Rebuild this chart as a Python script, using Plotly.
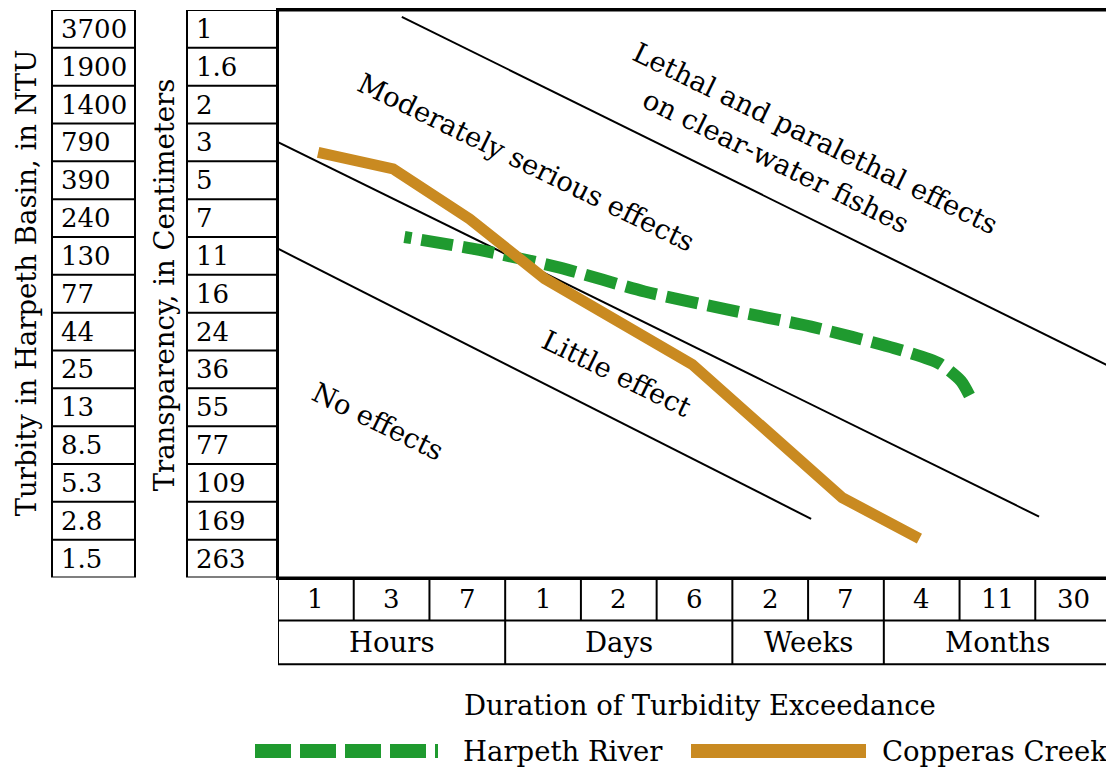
import plotly.graph_objects as go

# ---------------- data ----------------
turbidity_ntu = ["3700", "1900", "1400", "790", "390", "240", "130", "77",
                 "44", "25", "13", "8.5", "5.3", "2.8", "1.5"]
transparency_cm = ["1", "1.6", "2", "3", "5", "7", "11", "16",
                   "24", "36", "55", "77", "109", "169", "263"]
duration_values = ["1", "3", "7", "1", "2", "6", "2", "7", "4", "11", "30"]
duration_units = ["Hours", "Days", "Weeks", "Months"]
unit_spans = [3, 3, 2, 3]

# series, x = duration column position, y = table row position (0 bottom .. 15 top)
harpeth_x = [1.67, 2.66, 3.72, 4.84, 5.94, 7.04, 8.14, 8.73, 9.02, 9.17]
harpeth_y = [9.00, 8.66, 8.19, 7.56, 7.08, 6.63, 6.06, 5.66, 5.19, 4.66]
copperas_x = [0.53, 1.52, 2.53, 3.52, 5.47, 7.45, 8.47]
copperas_y = [11.24, 10.80, 9.48, 7.90, 5.63, 2.11, 1.03]

# effect boundary lines
lethal_x, lethal_y = [1.635, 11.0], [14.82, 5.56]
moderate_x, moderate_y = [0.0, 10.05], [11.51, 1.61]
little_x, little_y = [0.0, 7.04], [8.69, 1.55]

zone_labels = ["Lethal and paralethal effects", "on clear-water fishes",
               "Moderately serious effects", "Little effect", "No effects"]
zone_x = [7.10, 6.58, 3.28, 4.47, 1.32]
zone_y = [11.63, 11.00, 10.98, 5.40, 4.13]

# ---------------- styling ----------------
OFF = 8                      # browser body margin
W, H = 1114 - OFF, 774 - OFF
FONT = "DejaVu Serif"
FS_WORD = 27.5
FS_NUM = 26
GREEN = "#1f9a2f"
ORANGE = "#c98a21"


def px(x):
    return (x - OFF) / W


def py(y):
    return 1 - (y - OFF) / H


n_rows = len(turbidity_ntu)
n_cols = len(duration_values)

fig = go.Figure()

for xs, ys in [(lethal_x, lethal_y), (moderate_x, moderate_y), (little_x, little_y)]:
    fig.add_trace(go.Scatter(x=xs, y=ys, mode="lines",
                             line=dict(color="black", width=2),
                             showlegend=False, hoverinfo="skip"))

# green dash pattern with a short leading piece
dash_parts = ["7px", "10px"] + ["32px", "10px"] * 16
fig.add_trace(go.Scatter(x=harpeth_x, y=harpeth_y, mode="lines", name="Harpeth River",
                         line=dict(color=GREEN, width=12, dash=",".join(dash_parts),
                                   shape="spline", smoothing=0.6),
                         showlegend=False))
fig.add_trace(go.Scatter(x=copperas_x, y=copperas_y, mode="lines", name="Copperas Creek",
                         line=dict(color=ORANGE, width=11),
                         showlegend=False))

shapes = []
annotations = []
LW = 2
TXT = dict(family=FONT, size=FS_WORD, color="black")
NUM = dict(family=FONT, size=FS_NUM, color="black")

# left tables
for (x0, x1, labels) in [(52, 135, turbidity_ntu), (187, 278, transparency_cm)]:
    shapes.append(dict(type="rect", xref="paper", yref="y", x0=px(x0), x1=px(x1),
                       y0=0, y1=n_rows, line=dict(color="black", width=LW)))
    for k in range(1, n_rows):
        shapes.append(dict(type="line", xref="paper", yref="y", x0=px(x0), x1=px(x1),
                           y0=k, y1=k, line=dict(color="black", width=LW)))
    for i, lab in enumerate(labels):
        annotations.append(dict(text=lab, xref="paper", yref="y", x=px(x0 + 7),
                                y=n_rows - i - 0.5, xanchor="left", yanchor="middle",
                                showarrow=False, font=NUM))

# bottom rows
r1_top, r1_bot, r2_bot = 577, 620, 664
shapes.append(dict(type="rect", xref="x", yref="paper", x0=0, x1=n_cols,
                   y0=py(r2_bot), y1=py(r1_top), line=dict(color="black", width=LW)))
shapes.append(dict(type="line", xref="x", yref="paper", x0=0, x1=n_cols,
                   y0=py(r1_bot), y1=py(r1_bot), line=dict(color="black", width=LW)))
for k in range(1, n_cols):
    shapes.append(dict(type="line", xref="x", yref="paper", x0=k, x1=k,
                       y0=py(r1_bot), y1=py(r1_top), line=dict(color="black", width=LW)))
for i, lab in enumerate(duration_values):
    annotations.append(dict(text=lab, xref="x", yref="paper", x=i + 0.5,
                            y=py((r1_top + r1_bot) / 2), xanchor="center", yanchor="middle",
                            showarrow=False, font=NUM))
start = 0
for lab, span in zip(duration_units, unit_spans):
    end = start + span
    if end < n_cols:
        shapes.append(dict(type="line", xref="x", yref="paper", x0=end, x1=end,
                           y0=py(r2_bot), y1=py(r1_bot), line=dict(color="black", width=LW)))
    annotations.append(dict(text=lab, xref="x", yref="paper", x=(start + end) / 2,
                            y=py((r1_bot + r2_bot) / 2), xanchor="center", yanchor="middle",
                            showarrow=False, font=TXT))
    start = end

# top border of the chart is drawn heavier
shapes.append(dict(type="line", xref="x", yref="paper", x0=0, x1=n_cols,
                   y0=py(8), y1=py(8), line=dict(color="black", width=3)))

# zone labels
for lab, zx, zy in zip(zone_labels, zone_x, zone_y):
    annotations.append(dict(text=lab, xref="x", yref="y", x=zx, y=zy, textangle=26,
                            xanchor="center", yanchor="middle",
                            showarrow=False, font=TXT))

# axis titles
annotations.append(dict(text="Turbity in Harpeth Basin, in NTU", xref="paper", yref="paper",
                        x=px(26), y=py(282), textangle=-90, showarrow=False,
                        xanchor="center", yanchor="middle", font=TXT))
annotations.append(dict(text="Transparency, in Centimeters", xref="paper", yref="paper",
                        x=px(164), y=py(284), textangle=-90, showarrow=False,
                        xanchor="center", yanchor="middle", font=TXT))
annotations.append(dict(text="Duration of Turbidity Exceedance", xref="paper", yref="paper",
                        x=px(700), y=py(705), showarrow=False,
                        xanchor="center", yanchor="middle", font=TXT))

# legend
LEG_Y = 751
shapes.append(dict(type="line", xref="paper", yref="paper", x0=px(255), x1=px(438),
                   y0=py(LEG_Y), y1=py(LEG_Y),
                   line=dict(color=GREEN, width=14, dash="36px,9px")))
shapes.append(dict(type="line", xref="paper", yref="paper", x0=px(691), x1=px(866),
                   y0=py(LEG_Y), y1=py(LEG_Y), line=dict(color=ORANGE, width=14)))
annotations.append(dict(text="Harpeth River", xref="paper", yref="paper", x=px(461),
                        y=py(LEG_Y), xanchor="left", yanchor="middle", showarrow=False,
                        font=TXT))
annotations.append(dict(text="Copperas Creek", xref="paper", yref="paper", x=px(880),
                        y=py(LEG_Y), xanchor="left", yanchor="middle", showarrow=False,
                        font=TXT))

fig.update_layout(
    width=W, height=H,
    margin=dict(l=0, r=0, t=0, b=0),
    paper_bgcolor="white", plot_bgcolor="white",
    showlegend=False,
    shapes=shapes, annotations=annotations,
    xaxis=dict(domain=[px(278), px(1111)], range=[0, n_cols], showticklabels=False,
               ticks="", showgrid=False, zeroline=False, showline=True, mirror=True,
               linecolor="black", linewidth=LW, fixedrange=True),
    yaxis=dict(domain=[py(577), py(8)], range=[0, n_rows], showticklabels=False,
               ticks="", showgrid=False, zeroline=False, showline=True, mirror=True,
               linecolor="black", linewidth=LW, fixedrange=True),
)

fig.write_html("out.html")
